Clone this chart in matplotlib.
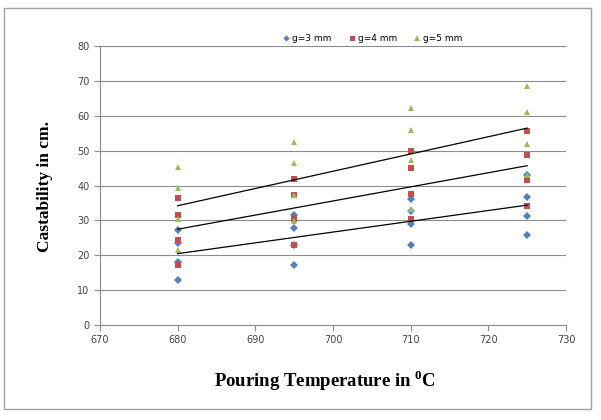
import numpy as np
import matplotlib
matplotlib.use("Agg")
import matplotlib.pyplot as plt
from matplotlib.patches import Rectangle

# pouring temperature (deg C) and castability (cm), four readings per temperature
temps = [680, 695, 710, 725]
g3_mm = [[27.2, 23.6, 18.2, 12.9],
         [31.5, 27.8, 23.0, 17.2],
         [36.0, 32.8, 28.9, 22.9],
         [43.0, 36.6, 31.2, 25.9]]
g4_mm = [[36.3, 31.5, 24.4, 17.3],
         [42.0, 37.2, 30.4, 22.9],
         [49.9, 44.9, 37.7, 30.4],
         [55.7, 48.7, 41.7, 34.2]]
g5_mm = [[45.2, 39.2, 30.4, 21.5],
         [52.5, 46.4, 37.2, 29.9],
         [62.1, 55.9, 47.3, 33.2],
         [68.4, 61.0, 52.0, 43.0]]
labels = ["g=3 mm", "g=4 mm", "g=5 mm"]

plt.rcParams["font.family"] = ["DejaVu Sans"]
plt.rcParams["mathtext.fontset"] = "custom"
plt.rcParams["mathtext.bf"] = "Liberation Serif:bold"
plt.rcParams["mathtext.rm"] = "Liberation Serif"

fig = plt.figure(figsize=(6.01, 4.2), dpi=100)
ax = fig.add_axes([100 / 601, 1 - 325 / 420, 466 / 601, 279 / 420])

styles = [("D", "#4F81BD", 4), ("s", "#C0504D", 4.5), ("^", "#9BBB59", 5)]
for data, lab, (mk, col, ms) in zip([g3_mm, g4_mm, g5_mm], labels, styles):
    xs = np.repeat(temps, 4)
    ys = np.array(data).ravel()
    ax.plot(xs, ys, linestyle="none", marker=mk, color=col, markersize=ms,
            markeredgewidth=0, label=lab, zorder=3)
    k, b = np.polyfit(xs, ys, 1)
    xl = np.array([temps[0], temps[-1]])
    ax.plot(xl, k * xl + b, color="black", linewidth=0.9, zorder=4)

ax.set_xlim(670, 730)
ax.set_ylim(0, 80)
ax.set_xticks(range(670, 731, 10))
ax.set_yticks(range(0, 81, 10))
ax.yaxis.grid(True, color="#8c8c8c", linewidth=0.8)
ax.set_axisbelow(True)
for s in ["top", "right"]:
    ax.spines[s].set_visible(False)
for s in ["left", "bottom"]:
    ax.spines[s].set_color("#8c8c8c")
ax.tick_params(axis="both", labelsize=7, colors="#8c8c8c", labelcolor="#444444",
               length=4, width=0.8)

ax.legend(loc="center", bbox_to_anchor=(0.62, 0.909), bbox_transform=fig.transFigure,
          ncol=3, frameon=False, fontsize=6.5, handlelength=0.8, handletextpad=0.3,
          columnspacing=1.8, markerscale=0.8)

fig.text(45 / 601, 1 - 186 / 420, "Castability in cm.", rotation=90,
         ha="center", va="center", fontsize=12.5, fontweight="bold",
         family="Liberation Serif")
fig.text(325 / 601, 1 - 381 / 420, r"Pouring Temperature in $^{\mathbf{0}}$C",
         ha="center", va="center", fontsize=13.5, fontweight="bold",
         family="Liberation Serif")

fig.patches.append(Rectangle((4 / 601, 1 - 409 / 420), 587 / 601, 401 / 420,
                             transform=fig.transFigure, fill=False,
                             edgecolor="#a0a0a0", linewidth=1))

fig.savefig("out.png", dpi=100)
